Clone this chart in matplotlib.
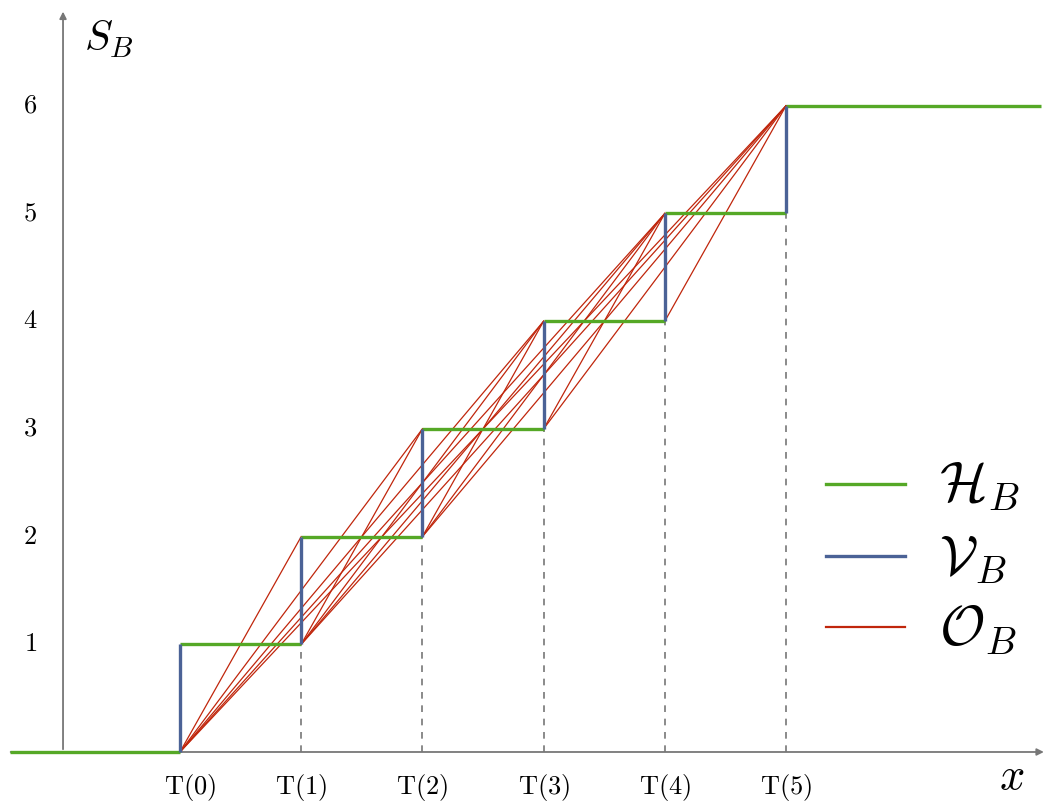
import matplotlib
matplotlib.use('Agg')
import matplotlib.pyplot as plt

plt.rcParams['mathtext.fontset'] = 'cm'

# step positions T(k) and labels
T = [0, 1, 2, 3, 4, 5]
T_labels = ['T(0)', 'T(1)', 'T(2)', 'T(3)', 'T(4)', 'T(5)']
y_ticks = [1, 2, 3, 4, 5, 6]

# horizontal parts of S_B: (x start, x end, level)
h_start = [-1.40, 0, 1, 2, 3, 4, 5]
h_end = [0, 1, 2, 3, 4, 5, 7.10]
h_level = [0, 1, 2, 3, 4, 5, 6]

# vertical jumps at T(k): from v_low to v_high
v_low = [0, 1, 2, 3, 4, 5]
v_high = [1, 2, 3, 4, 5, 6]

green = '#55a826'
blue = '#4b6296'
red = '#c0260c'
grey = '#777777'

fig = plt.figure(figsize=(10.47, 8.08), dpi=100)
ax = fig.add_axes([0, 0, 1, 1])
ax.set_xlim(-1.485, 7.153)
ax.set_ylim(-0.52, 6.982)
ax.axis('off')

# axes with arrows
ax.annotate('', xy=(7.15, 0), xytext=(-1.42, 0),
            arrowprops=dict(arrowstyle='-|>', color=grey, lw=1.3, mutation_scale=10))
ax.annotate('', xy=(-0.965, 6.9), xytext=(-0.965, 0),
            arrowprops=dict(arrowstyle='-|>', color=grey, lw=1.3, mutation_scale=10))

# dashed drop lines
for k in range(1, len(T)):
    ax.plot([T[k], T[k]], [0, v_low[k]], color=grey, lw=1.2, ls=(0, (4, 4)), zorder=1)

# oblique segments O_B: bottom of jump i to top of jump j
for i in range(len(T)):
    for j in range(i + 1, len(T)):
        ax.plot([T[i], T[j]], [v_low[i], v_high[j]], color=red, lw=0.9, zorder=2)

for a, b, l in zip(h_start, h_end, h_level):
    ax.plot([a, b], [l, l], color=green, lw=2.4, solid_capstyle='butt', zorder=3)

for t, lo, hi in zip(T, v_low, v_high):
    ax.plot([t, t], [lo, hi], color=blue, lw=2.4, solid_capstyle='butt', zorder=3)

# tick labels (T(0) sits a bit right of its jump, to clear the axis corner)
for k, (t, lab) in enumerate(zip(T, T_labels)):
    dx = 0.08 if k == 0 else 0.0
    ax.text(t + dx, -0.33, r'$\mathrm{' + lab + '}$', fontsize=19, ha='center', va='center')
for yv in y_ticks:
    ax.text(-1.235, yv, '$%d$' % yv, fontsize=19, ha='center', va='center')

ax.text(-0.79, 6.62, '$S_B$', fontsize=30, ha='left', va='center')
ax.text(6.86, -0.23, '$x$', fontsize=32, ha='center', va='center')

# legend
leg_y = [2.49, 1.82, 1.16]
leg_col = [green, blue, red]
leg_lw = [2.4, 2.4, 1.6]
leg_txt = [r'$\mathcal{H}_B$', r'$\mathcal{V}_B$', r'$\mathcal{O}_B$']
for yy, c, w, s in zip(leg_y, leg_col, leg_lw, leg_txt):
    ax.plot([5.33, 5.98], [yy, yy], color=c, lw=w)
    ax.text(6.26, yy - 0.03, s, fontsize=40, ha='left', va='center')

fig.savefig('out.png', dpi=100)
